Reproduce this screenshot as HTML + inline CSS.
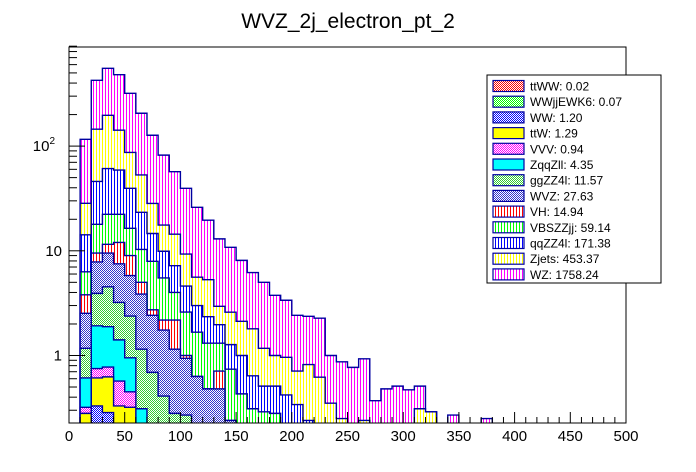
<!DOCTYPE html>
<html><head><meta charset="utf-8"><style>
html,body{margin:0;padding:0;background:#fff;}
svg{display:block;font-family:"Liberation Sans",sans-serif;}
</style></head><body>
<svg id="chart" width="696" height="472" viewBox="0 0 696 472" xmlns="http://www.w3.org/2000/svg">
<defs>
<pattern id="p-ttWW" width="2" height="2" patternUnits="userSpaceOnUse"><rect width="2" height="2" fill="#fff"/><rect width="1" height="1" fill="#ff0000"/><rect x="1" y="1" width="1" height="1" fill="#ff0000"/></pattern>
<pattern id="p-WWjj" width="2" height="2" patternUnits="userSpaceOnUse"><rect width="2" height="2" fill="#fff"/><rect width="1" height="1" fill="#00ff00"/><rect x="1" y="1" width="1" height="1" fill="#00ff00"/></pattern>
<pattern id="p-WW" width="2" height="2" patternUnits="userSpaceOnUse"><rect width="2" height="2" fill="#fff"/><rect width="1" height="1" fill="#0000ff"/><rect x="1" y="1" width="1" height="1" fill="#0000ff"/></pattern>
<pattern id="p-ttW" width="2" height="2" patternUnits="userSpaceOnUse"><rect width="2" height="2" fill="#ffff00"/></pattern>
<pattern id="p-VVV" width="2" height="2" patternUnits="userSpaceOnUse"><rect width="2" height="2" fill="#fff"/><rect width="1" height="1" fill="#ff00ff"/><rect x="1" y="1" width="1" height="1" fill="#ff00ff"/></pattern>
<pattern id="p-Zqq" width="2" height="2" patternUnits="userSpaceOnUse"><rect width="2" height="2" fill="#00ffff"/></pattern>
<pattern id="p-ggZZ" width="2" height="2" patternUnits="userSpaceOnUse"><rect width="2" height="2" fill="#fff"/><rect width="1" height="1" fill="#33cc33"/><rect x="1" y="1" width="1" height="1" fill="#33cc33"/></pattern>
<pattern id="p-WVZ" width="2" height="2" patternUnits="userSpaceOnUse"><rect width="2" height="2" fill="#fff"/><rect width="1" height="1" fill="#3333cc"/><rect x="1" y="1" width="1" height="1" fill="#3333cc"/></pattern>
<pattern id="p-VH" width="3" height="3" patternUnits="userSpaceOnUse"><rect width="3" height="3" fill="#fff"/><rect width="1" height="3" fill="#ff0000"/></pattern>
<pattern id="p-VBS" width="3" height="3" patternUnits="userSpaceOnUse"><rect width="3" height="3" fill="#fff"/><rect width="1" height="3" fill="#00ff00"/></pattern>
<pattern id="p-qqZZ" width="3" height="3" patternUnits="userSpaceOnUse"><rect width="3" height="3" fill="#fff"/><rect width="1" height="3" fill="#0000ff"/></pattern>
<pattern id="p-Zjets" width="3" height="3" patternUnits="userSpaceOnUse"><rect width="3" height="3" fill="#fff"/><rect width="1" height="3" fill="#ffff00"/></pattern>
<pattern id="p-WZ" width="3" height="3" patternUnits="userSpaceOnUse"><rect width="3" height="3" fill="#fff"/><rect width="1" height="3" fill="#ff00ff"/></pattern>
<clipPath id="plotclip"><rect x="69" y="47" width="557" height="376"/></clipPath>
</defs>
<text x="348" y="28" font-size="21" text-anchor="middle">WVZ_2j_electron_pt_2</text>
<g id="bars" clip-path="url(#plotclip)"></g>
<rect x="69" y="47" width="557" height="376" fill="none" stroke="#000" stroke-width="1"/>
<g id="axes"></g>
<g id="legend"></g>
</svg>
<script>
const binEdges = [0,10,20,30,40,50,60,70,80,90,100,110,120,130,140,150,160,170,180,190,200,210,220,230,240,250,260,270,280,290,300,310,320,330,340,350,360,370];
const processNames = ["ttWW","WWjjEWK6","WW","ttW","VVV","ZqqZll","ggZZ4l","WVZ","VH","VBSZZjj","qqZZ4l","Zjets","WZ"];
const legendYields = ["0.02","0.07","1.20","1.29","0.94","4.35","11.57","27.63","14.94","59.14","171.38","453.37","1758.24"];
const ttWW = [0,0,0,0.005];
const WWjjEWK6 = [0,0,0.01,0.02,0.01];
const WW = [0,0.1,0.32,0.26,0.15,0.1,0.05];
const ttW = [0,0.18,0.28,0.34,0.17,0.22,0.05];
const VVV = [0,0.04,0.14,0.15,0.24,0.13,0.05];
const ZqqZll = [0,0.29,1.17,1.11,0.84,0.5,0.16,0.2,0.06,0.05,0.04];
const ggZZ4l = [0,0.56,2.0,2.64,1.8,1.43,0.84,0.49,0.35,0.23,0.23,0.13,0.08,0.08,0.04];
const WVZ = [0,1.36,3.9,5.0,4.3,3.42,2.71,1.73,1.34,0.87,0.67,0.5,0.4,0.4,0.2];
const VH = [0,1.27,1.7,2.0,4.5,3.2,1.14,0.31,0.43,1.03,0.06,0,0,0.23];
const VBSZZjj = [0,2.5,8.4,10.8,10.3,7.4,5.3,5.2,3.32,1.82,1.6,1.04,0.83,0.6,0.5,0.43,0.31,0.29,0.28];
const qqZZ4l = [0,7.9,28.1,38.7,36.7,23.1,13,6.7,4.4,3.2,2.0,1.33,1.04,0.66,0.53,0.57,0.33,0.22,0.23,0.42,0.34,0.24];
const Zjets = [0,14.2,99,136,83,47.5,29.7,13.7,7.7,7.2,4.7,2.6,2.95,0.98,1.32,1.12,1.16,0.66,0.49,0.54,0.37,0.58,0.62,0.35,0.25,0,0.24,0,0,0,0,0.31,0.29];
const WZ = [0,87.6,280,356,339,232,153,98.6,64.4,42.6,30.2,20.4,14.3,10.05,8.21,5.98,4.4,3.83,2.76,2.41,1.71,1.55,1.65,0.65,0.62,0.77,0.69,0.37,0.48,0.51,0.47,0.2,0,0,0.27,0,0,0.25];
const xTickLabels = ["0","50","100","150","200","250","300","350","400","450","500"];
const yTickValues = [1,10,100];

const series = [ttWW,WWjjEWK6,WW,ttW,VVV,ZqqZll,ggZZ4l,WVZ,VH,VBSZZjj,qqZZ4l,Zjets,WZ];
const fills = ["p-ttWW","p-WWjj","p-WW","p-ttW","p-VVV","p-Zqq","p-ggZZ","p-WVZ","p-VH","p-VBS","p-qqZZ","p-Zjets","p-WZ"];
const NS = "http://www.w3.org/2000/svg";
const X0 = 69, X1 = 626, Y0 = 47, Y1 = 423;
const BW = 10;
function xs(v){ return X0 + (v/500)*(X1-X0); }
function ys(v){ return 355.5 - 104.7*Math.log10(v); }
const YMIN = Math.pow(10,(355.5-Y1)/104.7);
function mk(tag, attrs, parent){ const e=document.createElementNS(NS,tag); for(const k in attrs) e.setAttribute(k,attrs[k]); parent.appendChild(e); return e; }

const nb = binEdges.length;
const cum = [];
let run = new Array(nb).fill(0);
for (let s=0;s<series.length;s++){
  run = run.map((r,i)=> r + (series[s][i]||0));
  cum.push(run.slice());
}
const barsG = document.getElementById('bars');
for (let s=series.length-1;s>=0;s--){
  let d = "M"+xs(binEdges[0])+","+(Y1+2);
  for (let i=0;i<nb;i++){
    const v = cum[s][i];
    const y = v>YMIN ? ys(v) : Y1+2;
    d += " L"+xs(binEdges[i])+","+y+" L"+xs(binEdges[i]+BW)+","+y;
  }
  d += " L"+xs(binEdges[nb-1]+BW)+","+(Y1+2)+" Z";
  const p = mk('path',{d:d,fill:"url(#"+fills[s]+")",stroke:"#0000a0","stroke-width":"1.4"},barsG);
  
  
}

const ax = document.getElementById('axes');
for (let v=0; v<=500; v+=10){
  const major = v%50===0;
  const t = mk('line',{x1:xs(v),x2:xs(v),y1:Y1,y2:Y1-(major?11:6),stroke:"#000","stroke-width":"1"},ax);
  
  
}
for (let i=0;i<xTickLabels.length;i++){
  const t = mk('text',{x:xs(Number(xTickLabels[i])),y:441,"font-size":"15","text-anchor":"middle"},ax);
  t.textContent = xTickLabels[i];
  
  
}
for (let dec=-1; dec<=2; dec++){
  for (let m=1;m<=9;m++){
    const v = m*Math.pow(10,dec);
    if (v<YMIN || v>900) continue;
    const y = ys(v);
    const t = mk('line',{x1:X0,x2:X0+(m===1?16:8),y1:y,y2:y,stroke:"#000","stroke-width":"1"},ax);
    
    
  }
}
for (const v of yTickValues){
  const t = mk('text',{x:62,y:ys(v)+5,"font-size":"15","text-anchor":"end"},ax);
  if (v===100){ t.innerHTML = '10<tspan dy="-7" font-size="10">2</tspan>'; t.setAttribute('x',55); }
  else t.textContent = String(v);
  
  
}

const lg = document.getElementById('legend');
const box = mk('rect',{x:487,y:75,width:174,height:208,fill:"#fff",stroke:"#000","stroke-width":"1"},lg);


for (let i=0;i<processNames.length;i++){
  const cy = 86 + i*15.7;
  const g = mk('g',{},lg);
  
  
  mk('rect',{x:493,y:cy-5.5,width:31,height:11,fill:"url(#"+fills[i]+")",stroke:"#0000a0","stroke-width":"1.2"},g);
  const t = mk('text',{x:530,y:cy+4.5,"font-size":"12"},g);
  t.textContent = processNames[i]+": "+legendYields[i];
}
</script>
</body></html>
